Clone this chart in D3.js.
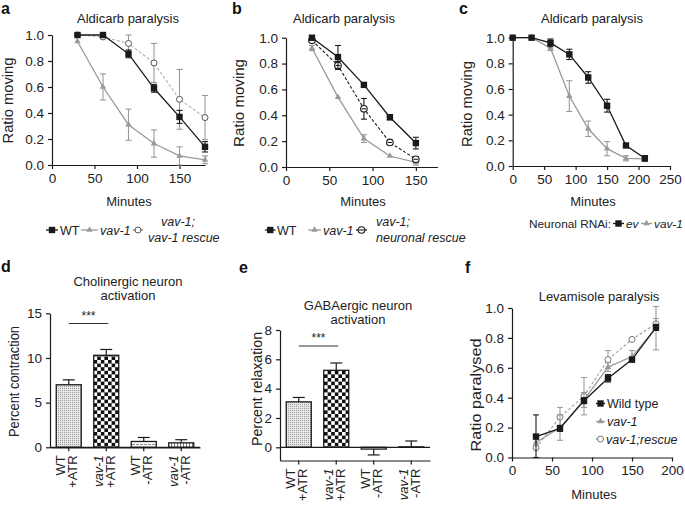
<!DOCTYPE html>
<html><head><meta charset="utf-8">
<script src="https://cdn.jsdelivr.net/npm/d3@7"></script>
<style>
body{margin:0;background:#fff;}
svg{font-family:"Liberation Sans",Arial,sans-serif;}
</style></head>
<body><svg id="c" width="685" height="505"></svg>
<script>
// ---------- DATA ----------
const minutesA = [30, 60, 90, 120, 150, 180];
const aWT = [1.0, 1.0, 0.855, 0.59, 0.37, 0.14];
const aWTerr = [0, 0, 0.03, 0.03, 0.05, 0.04];
const aVav = [0.95, 0.60, 0.31, 0.165, 0.07, 0.04];
const aVavErr = [0, 0.10, 0.12, 0.105, 0.07, 0.03];
const aRes = [1.0, 0.985, 0.935, 0.785, 0.505, 0.365];
const aResErr = [0, 0, 0.065, 0.15, 0.23, 0.17];

const minutesB = [30, 60, 90, 120, 150];
const bWT = [1.0, 0.85, 0.635, 0.385, 0.185];
const bWTerr = [0, 0.09, 0, 0.02, 0.045];
const bVav = [0.92, 0.54, 0.22, 0.085, 0.035];
const bVavErr = [0.02, 0, 0.03, 0, 0.02];
const bRes = [0.98, 0.785, 0.45, 0.19, 0.06];
const bResErr = [0, 0.03, 0.08, 0.015, 0.02];

const minutesC = [0, 30, 60, 90, 120, 150, 180, 210];
const cEv = [1, 1, 0.96, 0.87, 0.69, 0.47, 0.16, 0.06];
const cEvErr = [0, 0, 0.03, 0.04, 0.045, 0.05, 0, 0.02];
const cVav = [1, 1, 0.92, 0.545, 0.29, 0.135, 0.06, 0.055];
const cVavErr = [0, 0, 0.02, 0.12, 0.06, 0.055, 0.02, 0.02];

const barGroups = [["WT", "+ATR"], ["vav-1", "+ATR"], ["WT", "-ATR"], ["vav-1", "-ATR"]];
const dVals = [7.0, 10.3, 0.65, 0.5];
const dErr = [0.55, 0.65, 0.45, 0.35];
const eVals = [3.1, 5.25, -0.12, 0.03];
const eErr = [0.3, 0.5, 0.4, 0.4];

const minutesF = [30, 60, 90, 120, 150, 180];
const fWT = [0.14, 0.195, 0.38, 0.53, 0.655, 0.87];
const fWTerr = [0.145, 0.02, 0.02, 0.025, 0.01, 0.02];
const fVav = [0.10, 0.20, 0.385, 0.605, 0.675, 0.865];
const fVavErr = [0.02, 0.085, 0.05, 0.03, 0.04, 0.145];
const fRes = [0.065, 0.27, 0.41, 0.655, 0.79, 0.895];
const fResErr = [0, 0.065, 0.125, 0.06, 0, 0.035];

const ratioTicks = [0, 0.2, 0.4, 0.6, 0.8, 1.0];

// ---------- DRAW ----------
const svg = d3.select("#c");
const FS = 13, TFS = 13.5, LFS = 12.5;
const BLACK = "#1a1a1a", GRAY = "#9a9a9a";

const defs = svg.append("defs");
const p1 = defs.append("pattern").attr("id", "dots").attr("patternUnits", "userSpaceOnUse").attr("width", 2).attr("height", 2);
p1.append("rect").attr("width", 2).attr("height", 2).attr("fill", "#e8e8e8");
p1.append("rect").attr("width", 1).attr("height", 1).attr("fill", "#999");
const cs = 3.6;
const p2 = defs.append("pattern").attr("id", "checker").attr("patternUnits", "userSpaceOnUse").attr("width", cs * 2).attr("height", cs * 2);
p2.append("rect").attr("width", cs * 2).attr("height", cs * 2).attr("fill", "#fff");
p2.append("rect").attr("width", cs).attr("height", cs).attr("fill", "#111");
p2.append("rect").attr("x", cs).attr("y", cs).attr("width", cs).attr("height", cs).attr("fill", "#111");
const p3 = defs.append("pattern").attr("id", "hlines").attr("patternUnits", "userSpaceOnUse").attr("width", 4).attr("height", 3);
p3.append("rect").attr("width", 4).attr("height", 3).attr("fill", "#fff");
p3.append("rect").attr("width", 3).attr("height", 1).attr("fill", "#888");
const p4 = defs.append("pattern").attr("id", "vlines").attr("patternUnits", "userSpaceOnUse").attr("width", 3).attr("height", 3);
p4.append("rect").attr("width", 3).attr("height", 3).attr("fill", "#fff");
p4.append("rect").attr("width", 1).attr("height", 3).attr("fill", "#777");

function styleAxis(g) {
  g.selectAll("path.domain").attr("stroke", BLACK).attr("stroke-width", 1.2);
  g.selectAll(".tick line").attr("stroke", BLACK).attr("stroke-width", 1.2);
  g.selectAll(".tick text").attr("fill", "#222").style("font-size", TFS + "px").style("font-family", "Liberation Sans, Arial, sans-serif");
}

function marker(g, type, x, y, color, stroke) {
  if (type === "square") {
    g.append("rect").attr("x", x - 3.2).attr("y", y - 3.2).attr("width", 6.4).attr("height", 6.4).attr("fill", color);
  } else if (type === "tri") {
    g.append("path").attr("d", d3.symbol(d3.symbolTriangle, 18)()).attr("transform", `translate(${x},${y})`).attr("fill", color);
  } else if (type === "circle") {
    g.append("circle").attr("cx", x).attr("cy", y).attr("r", 3).attr("fill", "#fff").attr("stroke", stroke || color).attr("stroke-width", 1);
  } else if (type === "circleX") {
    g.append("circle").attr("cx", x).attr("cy", y).attr("r", 3.3).attr("fill", "#fff").attr("stroke", color).attr("stroke-width", 1.1);
    g.append("line").attr("x1", x - 2.3).attr("x2", x + 2.3).attr("y1", y).attr("y2", y).attr("stroke", color).attr("stroke-width", 1.1);
  }
}

function yLabel(g, x, y, text, len) {
  g.append("text").attr("transform", `translate(${x},${y}) rotate(-90)`).attr("text-anchor", "middle")
    .style("font-size", "14px").attr("fill", "#222").attr("textLength", len).attr("lengthAdjust", "spacingAndGlyphs").text(text);
}

function linePanel(cfg) {
  const g = svg.append("g");
  const x = d3.scaleLinear().domain(cfg.xd).range(cfg.xr);
  const y = d3.scaleLinear().domain(cfg.yd).range(cfg.yr);
  const gx = g.append("g").attr("transform", `translate(0,${cfg.yr[0]})`)
    .call(d3.axisBottom(x).tickValues(cfg.xticks).tickSize(4).tickSizeOuter(0).tickPadding(4).tickFormat(d3.format("d")));
  styleAxis(gx);
  const gy = g.append("g").attr("transform", `translate(${cfg.xr[0]},0)`)
    .call(d3.axisLeft(y).tickValues(cfg.yticks).tickSize(4).tickSizeOuter(0).tickPadding(4).tickFormat(d3.format(".1f")));
  styleAxis(gy);
  cfg.series.forEach(s => {
    const pts = s.x.map((v, i) => [x(v), y(s.y[i])]);
    s.x.forEach((v, i) => {
      const e = s.err[i];
      if (!e) return;
      const px = x(v), top = y(s.y[i] + e), bot = y(Math.max(0, s.y[i] - e));
      g.append("line").attr("x1", px).attr("x2", px).attr("y1", top).attr("y2", bot).attr("stroke", s.errColor || s.color).attr("stroke-width", 1.1);
      [top, bot].forEach(yy => g.append("line").attr("x1", px - 3).attr("x2", px + 3).attr("y1", yy).attr("y2", yy).attr("stroke", s.errColor || s.color).attr("stroke-width", 1.1));
    });
    g.append("path").datum(pts).attr("d", d3.line().x(d => d[0]).y(d => d[1]))
      .attr("fill", "none").attr("stroke", s.color).attr("stroke-width", s.lw || 1.3).attr("stroke-dasharray", s.dash || null);
    pts.forEach(p => marker(g, s.marker, p[0], p[1], s.mcolor || s.color, s.mstroke));
  });
  g.append("text").attr("x", cfg.titleX).attr("y", cfg.titleY).attr("text-anchor", "middle").style("font-size", FS + "px").attr("fill", "#222").text(cfg.title);
  g.append("text").attr("x", cfg.xlabX).attr("y", cfg.xlabY).attr("text-anchor", "middle").style("font-size", FS + "px").attr("fill", "#222").text("Minutes");
  yLabel(g, cfg.ylabX, cfg.ylabY, cfg.ylab, cfg.ylabLen);
  return g;
}

// Panel a
linePanel({
  xd: [0, 180], xr: [52, 205], yd: [0, 1], yr: [165, 35],
  xticks: [0, 50, 100, 150], yticks: ratioTicks,
  title: "Aldicarb paralysis", titleX: 128, titleY: 23, xlabX: 129, xlabY: 206,
  ylabX: 13, ylabY: 100.5, ylab: "Ratio moving", ylabLen: 86,
  series: [
    { x: minutesA, y: aRes, err: aResErr, color: "#b0b0b0", errColor: GRAY, dash: "3,2", marker: "circle", mstroke: "#555", lw: 1.1 },
    { x: minutesA, y: aVav, err: aVavErr, color: GRAY, marker: "tri" },
    { x: minutesA, y: aWT, err: aWTerr, color: BLACK, marker: "square" }
  ]
});
// Panel b
linePanel({
  xd: [0, 175], xr: [286, 437.5], yd: [0, 1], yr: [167, 37.7],
  xticks: [0, 50, 100, 150], yticks: ratioTicks,
  title: "Aldicarb paralysis", titleX: 344, titleY: 23, xlabX: 363, xlabY: 206,
  ylabX: 244, ylabY: 103, ylab: "Ratio moving", ylabLen: 88,
  series: [
    { x: minutesB, y: bVav, err: bVavErr, color: GRAY, marker: "tri" },
    { x: minutesB, y: bRes, err: bResErr, color: BLACK, dash: "3,2", marker: "circleX", lw: 1.1 },
    { x: minutesB, y: bWT, err: bWTerr, color: BLACK, marker: "square" }
  ]
});
// Panel c
linePanel({
  xd: [0, 250], xr: [512.7, 670], yd: [0, 1], yr: [166, 37.7],
  xticks: [0, 50, 100, 150, 200, 250], yticks: ratioTicks,
  title: "Aldicarb paralysis", titleX: 592, titleY: 23, xlabX: 593, xlabY: 206,
  ylabX: 472, ylabY: 104, ylab: "Ratio moving", ylabLen: 86,
  series: [
    { x: minutesC, y: cVav, err: cVavErr, color: GRAY, marker: "tri" },
    { x: minutesC, y: cEv, err: cEvErr, color: BLACK, marker: "square" }
  ]
});
// Panel f
linePanel({
  xd: [0, 200], xr: [512, 672], yd: [0, 1], yr: [457.5, 308],
  xticks: [0, 50, 100, 150, 200], yticks: ratioTicks,
  title: "Levamisole paralysis", titleX: 599, titleY: 301, xlabX: 594, xlabY: 499,
  ylabX: 481, ylabY: 395, ylab: "Ratio paralysed", ylabLen: 113,
  series: [
    { x: minutesF, y: fRes, err: fResErr, color: "#a0a0a0", dash: "3,2", marker: "circle", mstroke: "#777", lw: 1.1 },
    { x: minutesF, y: fVav, err: fVavErr, color: GRAY, marker: "tri" },
    { x: minutesF, y: fWT, err: fWTerr, color: BLACK, marker: "square" }
  ]
});

// Legends
function legItem(x1, x2, y, color, m, dash, mstroke) {
  svg.append("line").attr("x1", x1).attr("x2", x2).attr("y1", y).attr("y2", y).attr("stroke", color).attr("stroke-width", 1.3).attr("stroke-dasharray", dash || null);
  marker(svg, m, (x1 + x2) / 2, y, m === "circle" ? "#fff" : color, mstroke);
}
function legText(x, y, t, italic, fs) {
  svg.append("text").attr("x", x).attr("y", y).style("font-size", (fs || LFS) + "px").style("font-style", italic ? "italic" : "normal").attr("fill", "#222").text(t);
}
// a
legItem(46, 58, 230, BLACK, "square"); legText(60, 234.5, "WT");
legItem(81, 98, 230, GRAY, "tri"); legText(100, 234.5, "vav-1", true);
legItem(133, 143, 230, "#777", "circle", null, "#555");
legText(161, 226, "vav-1;", true); legText(148, 241.5, "vav-1 rescue", true);
// b
legItem(265, 275.5, 230, BLACK, "square"); legText(277, 234.5, "WT");
legItem(308, 321, 230, GRAY, "tri"); legText(323, 234.5, "vav-1", true);
legItem(356, 367, 230, BLACK, "circleX");
legText(376, 226, "vav-1;", true); legText(376, 241.5, "neuronal rescue", true);
// c
legText(529, 228, "Neuronal RNAi:", false, 11.8);
legItem(613, 624, 223.5, BLACK, "square"); legText(626, 228, "ev", true, 11.8);
legItem(641, 652, 223.5, GRAY, "tri"); legText(654, 228, "vav-1", true, 11.8);
// f
legItem(596, 605, 403.5, BLACK, "square"); legText(607, 408, "Wild type");
legItem(596, 605, 421.5, GRAY, "tri"); legText(607, 426, "vav-1", true);
legItem(596, 605, 439, "#999", "circle", "3,2", "#777"); legText(606, 443.5, "vav-1;rescue", true);

// Bar panels
const fills = ["url(#dots)", "url(#checker)", "url(#hlines)", "url(#vlines)"];
function barPanel(cfg) {
  const g = svg.append("g");
  const x = d3.scaleBand().domain(barGroups.map((d, i) => i)).range(cfg.xr).paddingInner(1 / 3).paddingOuter(1 / 6);
  const y = d3.scaleLinear().domain(cfg.yd).range(cfg.yr);
  const gy = g.append("g").attr("transform", `translate(${cfg.xr[0]},0)`)
    .call(d3.axisLeft(y).tickValues(cfg.yticks).tickSize(4).tickSizeOuter(0).tickPadding(4));
  styleAxis(gy);
  cfg.vals.forEach((v, i) => {
    const x0 = x(i), bw = x.bandwidth();
    const e = cfg.err[i];
    const tip = v >= 0 ? v + e : v - e;
    const cx = x0 + bw / 2;
    g.append("line").attr("x1", cx).attr("x2", cx).attr("y1", y(v)).attr("y2", y(tip)).attr("stroke", BLACK).attr("stroke-width", 1.2);
    g.append("line").attr("x1", cx - 6).attr("x2", cx + 6).attr("y1", y(tip)).attr("y2", y(tip)).attr("stroke", BLACK).attr("stroke-width", 1.2);
    g.append("rect").attr("x", x0).attr("width", bw).attr("y", y(Math.max(0, v))).attr("height", Math.abs(y(v) - y(0)))
      .attr("fill", fills[i]).attr("stroke", BLACK).attr("stroke-width", 1.3);
  });
  g.append("line").attr("x1", cfg.xr[0]).attr("x2", cfg.xr[1]).attr("y1", y(0)).attr("y2", y(0)).attr("stroke", BLACK).attr("stroke-width", 1.3);
  const by = y(cfg.yd[0]);
  const gx = g.append("g").attr("transform", `translate(0,${by})`)
    .call(d3.axisBottom(x).tickSize(4).tickSizeOuter(0).tickFormat(""));
  styleAxis(gx);
  barGroups.forEach((lab, i) => {
    const cx = x(i) + x.bandwidth() / 2;
    const t = g.append("text").attr("transform", `translate(${cx - 3.5},${by + 8}) rotate(-90)`).attr("text-anchor", "end").style("font-size", FS + "px").attr("fill", "#222");
    t.append("tspan").attr("x", 0).attr("dy", 0).style("font-style", lab[0] === "vav-1" ? "italic" : "normal").text(lab[0]);
    t.append("tspan").attr("x", 0).attr("dy", 12).text(lab[1]);
  });
  g.append("line").attr("x1", x(0) + x.bandwidth() / 2).attr("x2", x(1) + x.bandwidth() / 2 + 2).attr("y1", cfg.sigY).attr("y2", cfg.sigY).attr("stroke", "#333").attr("stroke-width", 1.2);
  g.append("text").attr("x", (x(0) + x(1) + x.bandwidth()) / 2 + 1).attr("y", cfg.sigY - 4).attr("text-anchor", "middle").style("font-size", "12px").attr("fill", "#222").text("***");
  g.append("text").attr("x", cfg.titleX).attr("y", cfg.titleY).attr("text-anchor", "middle").style("font-size", FS + "px").attr("fill", "#222").text(cfg.title1);
  g.append("text").attr("x", cfg.titleX).attr("y", cfg.titleY + 14.5).attr("text-anchor", "middle").style("font-size", FS + "px").attr("fill", "#222").text("activation");
  yLabel(g, cfg.ylabX, cfg.ylabY, cfg.ylab, cfg.ylabLen);
}
barPanel({
  xr: [50, 200], yd: [0, 15], yr: [447.3, 313.3], yticks: [0, 5, 10, 15],
  vals: dVals, err: dErr, sigY: 323.5, title1: "Cholinergic neuron", titleX: 128, titleY: 285.5,
  ylab: "Percent contraction", ylabX: 19, ylabY: 381.5, ylabLen: 111
});
barPanel({
  xr: [280, 430], yd: [-0.9, 8], yr: [460.5, 330], yticks: [0, 2, 4, 6, 8],
  vals: eVals, err: eErr, sigY: 346, title1: "GABAergic neuron", titleX: 358, titleY: 309.5,
  ylab: "Percent relaxation", ylabX: 262, ylabY: 389, ylabLen: 114
});

// panel letters
[["a", 1, 14], ["b", 232, 14], ["c", 459, 14], ["d", 1, 272], ["e", 239, 273], ["f", 465, 273]].forEach(d => {
  svg.append("text").attr("x", d[1]).attr("y", d[2]).style("font-size", "16px").style("font-weight", "bold").attr("fill", "#111").text(d[0]);
});
</script></body></html>
